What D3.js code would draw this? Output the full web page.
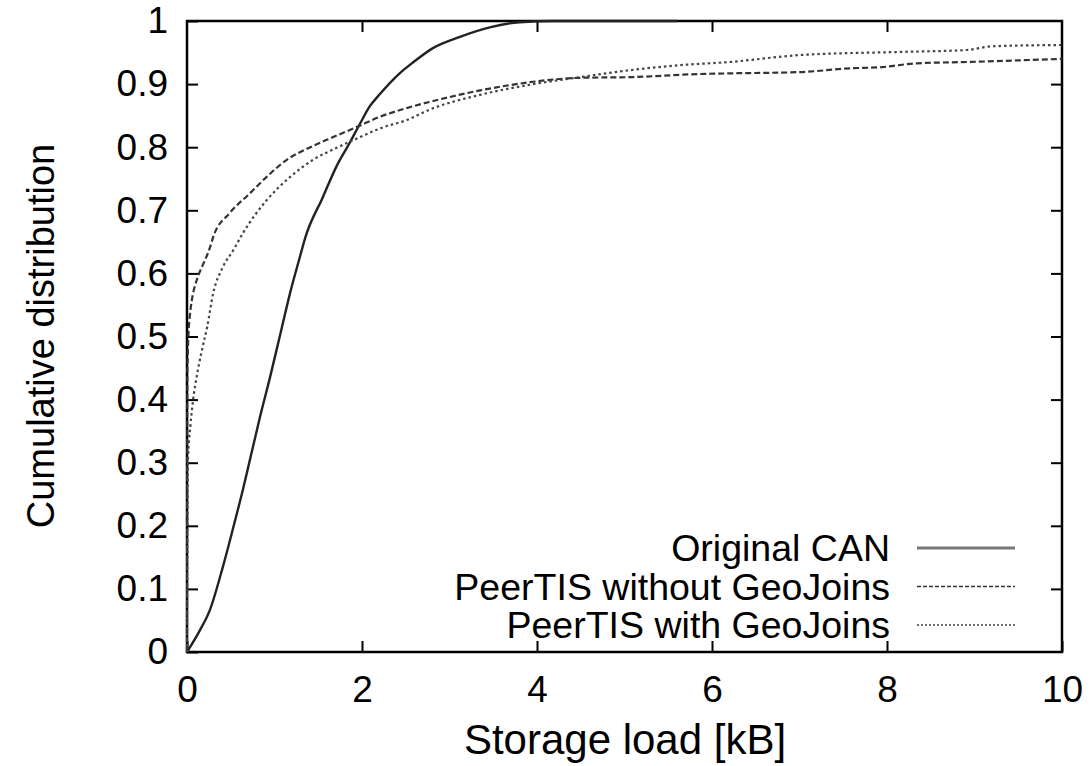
<!DOCTYPE html>
<html>
<head>
<meta charset="utf-8">
<script src="https://cdn.jsdelivr.net/npm/d3@7"></script>
<style>
  body { margin: 0; background: #fff; }
  text { font-family: "Liberation Sans", Arial, sans-serif; fill: #000; }
</style>
</head>
<body>
<svg id="chart" width="1090" height="766"></svg>
<script>
// storage load [kB] / cumulative fraction
var originalCAN = [
  [0,0],[0.15,0.035],[0.26,0.066],[0.41,0.135],[0.53,0.198],[0.64,0.258],[0.72,0.305],
  [0.83,0.37],[0.95,0.436],[1.06,0.5],[1.18,0.57],[1.29,0.626],[1.35,0.656],[1.55,0.72],
  [1.71,0.77],[1.86,0.807],[1.98,0.838],[2.09,0.865],[2.21,0.885],[2.43,0.917],[2.59,0.935],
  [2.81,0.957],[3.12,0.975],[3.46,0.99],[3.8,0.998],[4.2,1],[5.6,1]
];
var withoutGeoJoins = [
  [0,0],[0.005,0.45],[0.03,0.53],[0.13,0.597],[0.17,0.61],[0.26,0.64],[0.3,0.658],[0.49,0.696],
  [0.72,0.727],[0.91,0.753],[1.14,0.78],[1.41,0.8],[1.67,0.816],[1.94,0.832],[2.2,0.848],
  [2.51,0.862],[2.78,0.872],[3.35,0.89],[3.92,0.903],[4.49,0.91],[5.06,0.911],[5.86,0.916],
  [6.2,0.917],[7.0,0.919],[7.58,0.925],[7.95,0.927],[8.34,0.933],[8.91,0.935],[10,0.94]
];
var withGeoJoins = [
  [0,0],[0.01,0.3],[0.04,0.36],[0.07,0.4],[0.11,0.436],[0.17,0.478],[0.23,0.515],[0.3,0.569],
  [0.41,0.61],[0.53,0.637],[0.64,0.664],[0.91,0.716],[1.18,0.753],[1.44,0.78],[1.71,0.799],
  [1.98,0.816],[2.21,0.83],[2.51,0.843],[2.78,0.86],[3.35,0.883],[3.92,0.899],[4.49,0.911],
  [5.06,0.922],[5.63,0.93],[6.2,0.935],[7.0,0.946],[8.15,0.951],[8.91,0.954],[9.21,0.96],[10,0.962]
];
var xTicks = [0,2,4,6,8,10];
var yTicks = [0,0.1,0.2,0.3,0.4,0.5,0.6,0.7,0.8,0.9,1];
var seriesNames = ["Original CAN","PeerTIS without GeoJoins","PeerTIS with GeoJoins"];

var margin = {left:187, right:28, top:21, bottom:114};
var width = 1090, height = 766;
var svg = d3.select("#chart");

var xScale = d3.scaleLinear().domain([0,10]).range([margin.left, width-margin.right]);
var yScale = d3.scaleLinear().domain([0,1]).range([height-margin.bottom, margin.top]);

var fmt = d3.format("~g");

// ticks on all four sides, pointing in
svg.append("g")
  .attr("transform","translate(0,"+(height-margin.bottom)+")")
  .call(d3.axisBottom(xScale).tickValues(xTicks).tickSize(-11).tickPadding(24).tickFormat(fmt))
  .call(function(g){ g.select(".domain").remove(); });
svg.append("g")
  .attr("transform","translate(0,"+margin.top+")")
  .call(d3.axisTop(xScale).tickValues(xTicks.slice(1,-1)).tickSize(-11).tickFormat(""))
  .call(function(g){ g.select(".domain").remove(); });
svg.append("g")
  .attr("transform","translate("+margin.left+",0)")
  .call(d3.axisLeft(yScale).tickValues(yTicks).tickSize(-11).tickPadding(19).tickFormat(fmt))
  .call(function(g){ g.select(".domain").remove(); });
svg.append("g")
  .attr("transform","translate("+(width-margin.right)+",0)")
  .call(d3.axisRight(yScale).tickValues(yTicks.slice(1,-1)).tickSize(-11).tickFormat(""))
  .call(function(g){ g.select(".domain").remove(); });

svg.selectAll(".tick line").style("stroke","#000").style("stroke-width",2);
svg.selectAll(".tick text").style("font-size","37px");

svg.append("rect")
  .attr("x",margin.left)
  .attr("y",margin.top)
  .attr("width",width-margin.left-margin.right)
  .attr("height",height-margin.top-margin.bottom)
  .style("fill","none")
  .style("stroke","#000")
  .style("stroke-width",2.5);

var line = d3.line()
  .curve(d3.curveMonotoneX)
  .x(function(d){ return xScale(d[0]); })
  .y(function(d){ return yScale(d[1]); });

var styles = [
  {data: originalCAN, dash: null, color:"#222", w:2.4},
  {data: withoutGeoJoins, dash: "6,3", color:"#333", w:2.2},
  {data: withGeoJoins, dash: "2.5,3", color:"#444", w:2.2}
];

svg.append("g")
  .selectAll("path")
  .data(styles)
  .enter()
  .append("path")
  .attr("d",function(d){ return line(d.data); })
  .style("fill","none")
  .style("stroke",function(d){ return d.color; })
  .style("stroke-width",function(d){ return d.w; })
  .style("stroke-dasharray",function(d){ return d.dash; });

// legend
var legend = svg.append("g")
  .selectAll("g")
  .data(styles)
  .enter()
  .append("g")
  .attr("transform",function(d,i){ return "translate(0,"+(548+i*38.5)+")"; });

legend.append("text")
  .attr("x",890)
  .attr("y",0)
  .attr("dy","0.35em")
  .attr("text-anchor","end")
  .style("font-size","37.5px")
  .text(function(d,i){ return seriesNames[i]; });

legend.append("line")
  .attr("x1",917)
  .attr("x2",1015)
  .attr("y1",0)
  .attr("y2",0)
  .style("stroke",function(d,i){ return i == 0 ? "#777" : d.color; })
  .style("stroke-width",function(d,i){ return i == 0 ? 3 : 1.5; })
  .style("stroke-dasharray",function(d,i){ return i == 0 ? null : (i == 1 ? "4,2" : "2,2"); });

svg.append("text")
  .attr("text-anchor","middle")
  .attr("x",625)
  .attr("y",754)
  .style("font-size","42px")
  .text("Storage load [kB]");

svg.append("text")
  .attr("text-anchor","middle")
  .attr("transform","translate(54,336) rotate(-90)")
  .style("font-size","38px")
  .text("Cumulative distribution");
</script>
</body>
</html>
